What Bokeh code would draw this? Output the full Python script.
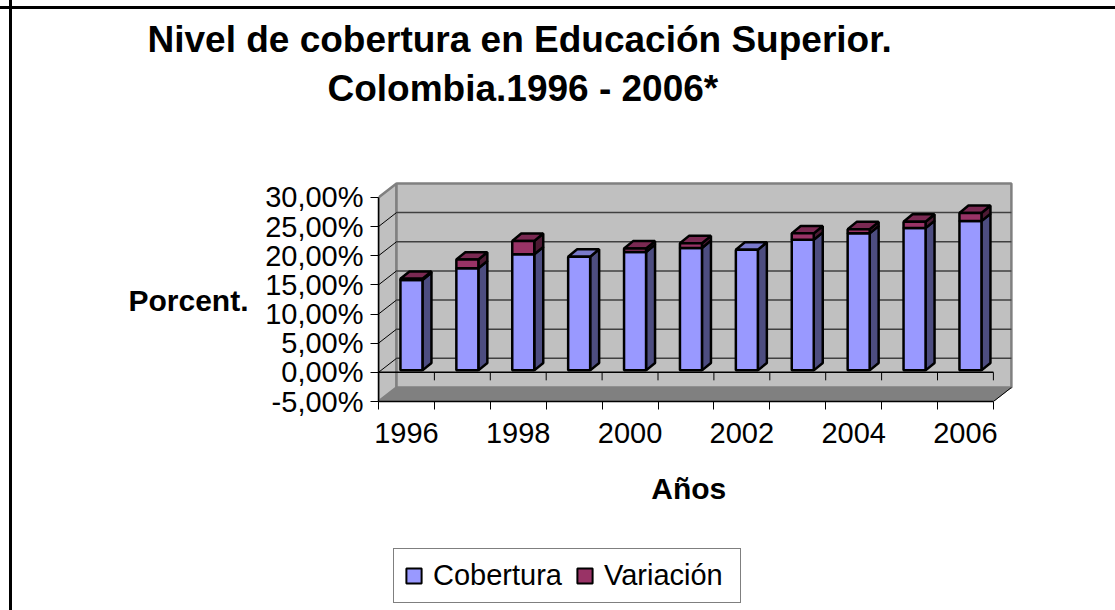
from bokeh.plotting import figure
from bokeh.layouts import column
from bokeh.models import (ColumnDataSource, FixedTicker, Legend, LegendItem, LinearAxis, Title, Range1d)
from bokeh.embed import file_html
from bokeh.resources import INLINE

years = [1996, 1997, 1998, 1999, 2000, 2001, 2002, 2003, 2004, 2005, 2006]
cobertura = [15.5, 17.5, 19.9, 19.5, 20.3, 21.0, 20.7, 22.4, 23.5, 24.4, 25.6]
variacion = [0.2, 1.5, 2.3, 0.0, 0.6, 0.8, 0.0, 1.1, 0.7, 1.1, 1.4]
y_ticks = [-5, 0, 5, 10, 15, 20, 25, 30]
y_tick_labels = ["-5,00%", "0,00%", "5,00%", "10,00%", "15,00%", "20,00%", "25,00%", "30,00%"]
x_label_years = [1996, 1998, 2000, 2002, 2004, 2006]
series_names = ["Cobertura", "Variación"]
chart_title = ["Nivel de cobertura en Educación Superior.", "Colombia.1996 - 2006*"]
y_axis_title = "Porcent."
x_axis_title = "Años"

W, H, H2 = 1115, 540, 70
FL, FR, FT, FB = 378, 1014, 181, 401      # frame edges in page px
PX_X = 55.9                               # px per year
PX_Y = 5.83                               # px per percent
x0 = min(years) - 0.5
x1 = max(years) + 0.5
xend = x0 + (FR - FL) / PX_X
yend = -5 + (FB - FT) / PX_Y
WX, WY = 18 / PX_X, 14 / PX_Y             # wall depth
BOX, BOY = 5 / PX_X, 2 / PX_Y             # bar offset from the front plane
BDX, BDY = 9 / PX_X, 7.4 / PX_Y           # bar depth
BW = 22 / PX_X                            # bar width
BAR_LW = 2.5

BLUE, BLUE_S, BLUE_T = "#9999FF", "#4D4D80", "#7A7ACC"
RED, RED_S, RED_T = "#993366", "#4D1A33", "#7A2952"
WALL, FLOOR, EDGE, GRID = "#C0C0C0", "#808080", "#808080", "#404040"
FONT = "Liberation Sans"
TICK_PX = "29px"
BOLD_PX = "30px"
TITLE_PX = "37px"

top_line = "linear-gradient(black,black) 0 6px/100% 3px no-repeat,"
left_line = "linear-gradient(black,black) 9px 0/3px 100% no-repeat,white"

p = figure(width=W, height=H, output_backend="svg", toolbar_location=None,
           x_range=Range1d(x0, xend), y_range=Range1d(-5, yend),
           min_border_left=FL, min_border_right=W - FR, min_border_top=FT, min_border_bottom=H - FB,
           background_fill_color=None, border_fill_color=None, outline_line_color=None,
           styles={"background": top_line + left_line})
p.grid.visible = False

# walls and floor
left_x, right_x = x0, x1
p.patch([left_x, left_x + WX, left_x + WX, left_x], [30, 30 + WY, -5 + WY, -5],
        fill_color=WALL, line_color=EDGE, line_width=2.5)
p.patch([left_x + WX, right_x + WX, right_x + WX, left_x + WX], [-5 + WY, -5 + WY, 30 + WY, 30 + WY],
        fill_color=WALL, line_color=EDGE, line_width=2.5)
p.patch([left_x, left_x + WX, right_x + WX, right_x], [-5, -5 + WY, -5 + WY, -5],
        fill_color=FLOOR, line_color=FLOOR, line_width=1)
p.line([right_x, right_x + WX], [-5, -5 + WY], line_color="black", line_width=1)

# gridlines (back wall and left wall)
gv = [t for t in y_ticks if -5 < t < 30]
p.segment(x0=[left_x + WX] * len(gv), x1=[right_x + WX] * len(gv), y0=[v + WY for v in gv],
          y1=[v + WY for v in gv], line_color=GRID, line_width=1.5)
p.segment(x0=[left_x] * len(gv), x1=[left_x + WX] * len(gv), y0=gv, y1=[v + WY for v in gv],
          line_color="black", line_width=1)

# zero line with its ticks
bounds = [x0 + i for i in range(len(years) + 1)]
p.line([x0, x1], [0, 0], line_color="black", line_width=1.5)
p.segment(x0=bounds, x1=bounds, y0=[0] * len(bounds), y1=[-8 / PX_Y] * len(bounds),
          line_color="black", line_width=1)

# bars
def faces(x, b, t):
    r = x + BW / 2
    l = x - BW / 2
    return ([r, r + BDX, r + BDX, r], [b, b + BDY, t + BDY, t]), ([l, r, r + BDX, l + BDX], [t, t, t + BDY, t + BDY])

xc = [y + BOX for y in years]
base = [BOY] * len(years)
mid = [c + BOY for c in cobertura]
top = [c + v + BOY for c, v in zip(cobertura, variacion)]
rn = [i for i, v in enumerate(variacion) if v > 0]

for k in range(len(years)):
    side, cap = faces(xc[k], base[k], mid[k])
    p.patch(*side, fill_color=BLUE_S, line_color="black", line_width=BAR_LW)
    if variacion[k] > 0:
        side2, cap2 = faces(xc[k], mid[k], top[k])
        p.patch(*side2, fill_color=RED_S, line_color="black", line_width=BAR_LW)
        p.patch(*cap2, fill_color=RED_T, line_color="black", line_width=BAR_LW)
    else:
        p.patch(*cap, fill_color=BLUE_T, line_color="black", line_width=BAR_LW)

src_c = ColumnDataSource(dict(x=xc, bottom=base, top=mid))
src_v = ColumnDataSource(dict(x=[xc[i] for i in rn], bottom=[mid[i] for i in rn], top=[top[i] for i in rn]))
p.vbar(x="x", width=BW, bottom="bottom", top="top", source=src_c, fill_color=BLUE, line_color="black", line_width=BAR_LW)
p.vbar(x="x", width=BW, bottom="bottom", top="top", source=src_v, fill_color=RED, line_color="black", line_width=BAR_LW)

# axes
yax = p.yaxis[0]
yax.ticker = FixedTicker(ticks=y_ticks)
yax.major_label_overrides = {t: s for t, s in zip(y_ticks, y_tick_labels)}
yax.bounds = (-5, 30)
yax.major_tick_out = 8
yax.major_tick_in = 0
yax.minor_tick_line_color = None
yax.major_tick_line_color = "black"
yax.axis_line_color = "black"
yax.axis_line_width = 1.5
yax.major_label_text_font = FONT
yax.major_label_text_font_size = TICK_PX
yax.major_label_text_color = "black"
yax.major_label_standoff = 7

xax = p.xaxis[0]
xax.ticker = FixedTicker(ticks=x_label_years, minor_ticks=bounds)
xax.major_tick_line_color = None
xax.minor_tick_out = 8
xax.minor_tick_in = 0
xax.minor_tick_line_color = "black"
xax.bounds = (x0, x1)
xax.axis_line_color = "black"
xax.axis_line_width = 1.5
xax.major_label_text_font = FONT
xax.major_label_text_font_size = TICK_PX
xax.major_label_text_color = "black"
xax.major_label_standoff = 13

# axis titles sit off-centre, so each is a one-tick axis placed by the scale
Y_TITLE_AT = 12.3
X_TITLE_AT = 2001.05
ty = LinearAxis(ticker=FixedTicker(ticks=[Y_TITLE_AT]), major_label_overrides={Y_TITLE_AT: y_axis_title},
                axis_line_color=None, major_tick_line_color=None, minor_tick_line_color=None,
                major_label_text_font=FONT, major_label_text_font_style="bold",
                major_label_text_font_size=BOLD_PX, major_label_text_color="black", major_label_standoff=8)
p.add_layout(ty, "left")
tx = LinearAxis(ticker=FixedTicker(ticks=[X_TITLE_AT]), major_label_overrides={X_TITLE_AT: x_axis_title},
                axis_line_color=None, major_tick_line_color=None, minor_tick_line_color=None,
                major_label_text_font=FONT, major_label_text_font_style="bold",
                major_label_text_font_size=BOLD_PX, major_label_text_color="black", major_label_standoff=20)
p.add_layout(tx, "below")

# title lines, with a blank spacer panel between them and the plot; outermost added last
p.add_layout(Title(text=" ", standoff=27, text_font=FONT, text_font_size=TITLE_PX), "above")
p.add_layout(Title(text=chart_title[1], align="left", offset=327 - FL, standoff=6,
                   text_font=FONT, text_font_style="bold", text_font_size=TITLE_PX, text_color="black"), "above")
p.add_layout(Title(text=chart_title[0], align="left", offset=147 - FL, standoff=6,
                   text_font=FONT, text_font_style="bold", text_font_size=TITLE_PX, text_color="black"), "above")

# legend: below the axes, in its own strip so it is not clipped to the plot frame
q = figure(width=W, height=H2, output_backend="svg", toolbar_location=None,
           x_range=Range1d(0, 1), y_range=Range1d(0, 1),
           min_border=0, background_fill_color=None, border_fill_color=None, outline_line_color=None,
           x_axis_location=None, y_axis_location=None, styles={"background": left_line})
q.grid.visible = False
l_c = q.vbar(x="x", width=BW, bottom="bottom", top="top", source=src_c, fill_color=BLUE,
             line_color="black", line_width=2, visible=False)
l_v = q.vbar(x="x", width=BW, bottom="bottom", top="top", source=src_v, fill_color=RED,
             line_color="black", line_width=2, visible=False)
legend = Legend(items=[LegendItem(label=series_names[0], renderers=[l_c]),
                       LegendItem(label=series_names[1], renderers=[l_v])],
                orientation="horizontal", location=(393 - FL, 7),
                label_text_font=FONT, label_text_font_size=TICK_PX, label_text_color="black",
                border_line_color="black", border_line_width=1, background_fill_alpha=1,
                glyph_width=19, glyph_height=19, spacing=13, margin=0, padding=10, label_standoff=10,
                label_width=126)
q.add_layout(legend, "center")

open("out.html", "w").write(file_html(column(p, q, spacing=0), INLINE))
